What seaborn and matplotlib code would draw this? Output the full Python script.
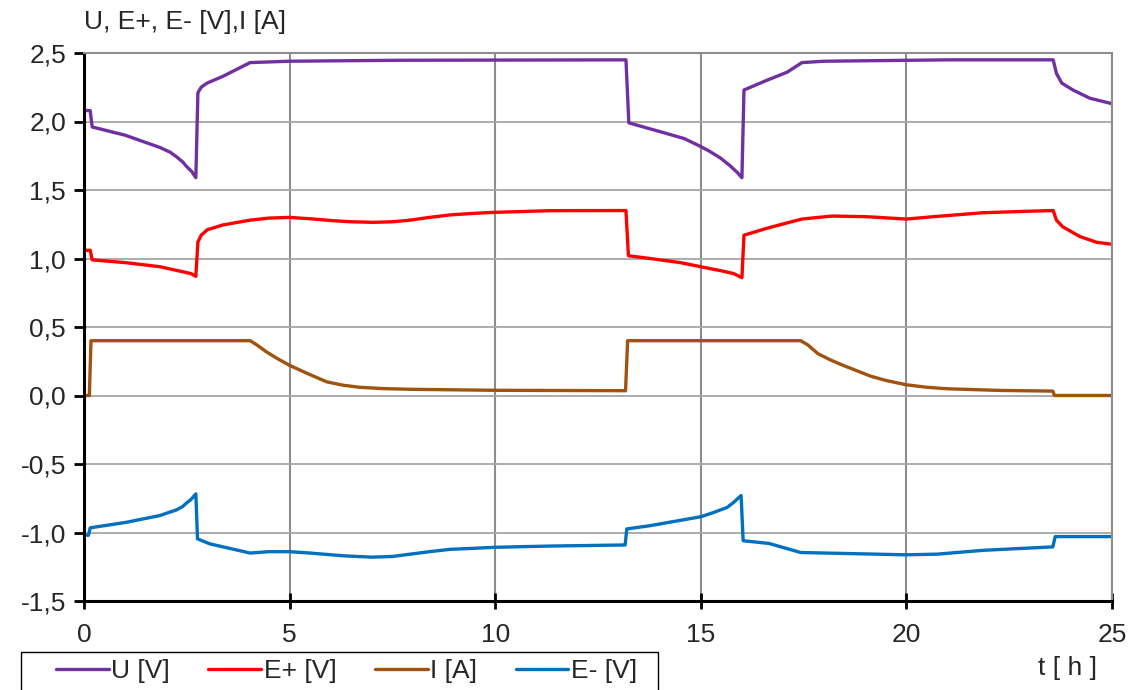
import matplotlib
matplotlib.use("Agg")
import matplotlib.pyplot as plt
import seaborn as sns
from matplotlib.patches import Rectangle
from matplotlib.ticker import FuncFormatter, MultipleLocator

# Data
t_u = [0, 0.15, 0.2, 1.0, 1.85, 2.1, 2.26, 2.4, 2.5, 2.62, 2.72, 2.77, 2.85, 2.99, 3.38, 4.04, 5.0,
       7.7, 13.18, 13.25, 14.08, 14.6, 14.98, 15.2, 15.47, 15.7, 15.88, 16.0, 16.05, 16.6, 17.1,
       17.46, 18.0, 21.0, 23.57, 23.65, 23.78, 24.05, 24.46, 25.0]
u = [2.08, 2.08, 1.96, 1.90, 1.81, 1.775, 1.74, 1.705, 1.67, 1.635, 1.59, 2.21, 2.25, 2.28, 2.33,
     2.43, 2.44, 2.447, 2.45, 1.99, 1.92, 1.875, 1.82, 1.785, 1.735, 1.68, 1.63, 1.59, 2.23, 2.30,
     2.36, 2.43, 2.44, 2.45, 2.45, 2.35, 2.28, 2.23, 2.17, 2.13]

t_ep = [0, 0.15, 0.2, 1.0, 1.85, 2.3, 2.6, 2.72, 2.77, 2.85, 3.0, 3.38, 4.04, 4.5, 5.0, 5.5, 6.06,
        6.5, 7.03, 7.5, 7.93, 8.4, 8.9, 9.5, 10.0, 11.33, 13.18, 13.24, 13.77, 14.5, 15.0, 15.5,
        15.8, 16.0, 16.05, 16.6, 17.1, 17.46, 18.2, 19.03, 20.0, 20.65, 21.86, 23.08, 23.57, 23.65,
        23.8, 24.22, 24.63, 25.0]
e_plus = [1.06, 1.06, 0.99, 0.97, 0.94, 0.91, 0.89, 0.87, 1.12, 1.17, 1.21, 1.245, 1.28, 1.295, 1.30,
          1.29, 1.276, 1.268, 1.264, 1.268, 1.28, 1.30, 1.318, 1.33, 1.337, 1.349, 1.35, 1.02, 1.00,
          0.97, 0.94, 0.91, 0.89, 0.86, 1.17, 1.22, 1.26, 1.288, 1.31, 1.305, 1.288, 1.305, 1.334,
          1.346, 1.35, 1.28, 1.232, 1.16, 1.118, 1.104]

t_i = [0, 0.13, 0.17, 4.04, 4.2, 4.45, 4.7, 5.0, 5.4, 5.9, 6.3, 6.7, 7.3, 8.0, 10.0, 13.17, 13.22,
       17.43, 17.6, 17.85, 18.15, 18.46, 18.8, 19.14, 19.5, 20.0, 20.5, 21.0, 22.28, 23.56, 23.6,
       25.0]
i_a = [0, 0, 0.4, 0.4, 0.37, 0.316, 0.27, 0.22, 0.165, 0.10, 0.075, 0.06, 0.05, 0.045, 0.038,
       0.035, 0.4, 0.4, 0.37, 0.305, 0.26, 0.22, 0.18, 0.14, 0.11, 0.078, 0.06, 0.049, 0.037,
       0.032, 0.0, 0.0]

t_em = [0, 0.11, 0.15, 1.04, 1.85, 2.0, 2.25, 2.4, 2.5, 2.6, 2.72, 2.76, 3.06, 4.04, 4.5, 5.0, 5.5,
        6.3, 7.0, 7.5, 8.4, 8.9, 9.5, 10.0, 11.33, 13.16, 13.2, 13.77, 15.0, 15.3, 15.64, 15.8,
        15.98, 16.03, 16.66, 17.43, 20.0, 20.75, 21.87, 23.56, 23.62, 25.0]
e_minus = [-1.02, -1.02, -0.966, -0.925, -0.876, -0.86, -0.835, -0.81, -0.783, -0.76, -0.718,
           -1.046, -1.083, -1.15, -1.14, -1.14, -1.15, -1.17, -1.18, -1.175, -1.14, -1.123, -1.115,
           -1.108, -1.099, -1.091, -0.974, -0.95, -0.885, -0.855, -0.817, -0.78, -0.73, -1.06,
           -1.08, -1.146, -1.163, -1.158, -1.13, -1.105, -1.03, -1.03]

series = [
    (t_u, u, "U [V]", "#7030A0"),
    (t_ep, e_plus, "E+ [V]", "#FF0000"),
    (t_i, i_a, "I [A]", "#A0520F"),
    (t_em, e_minus, "E- [V]", "#0070C0"),
]

sns.set_style("white")
plt.rcParams["font.family"] = ["Liberation Sans", "DejaVu Sans"]
fs = 19

fig = plt.figure(figsize=(11.29, 6.90), dpi=100)
ax = fig.add_axes([84 / 1129, 1 - 601 / 690, (1112 - 84) / 1129, (601 - 53) / 690])

for x, y, name, col in series:
    sns.lineplot(x=x, y=y, ax=ax, color=col, lw=2.4, label=name,
                 estimator=None, sort=False)

ax.set_xlim(0, 25)
ax.set_ylim(-1.5, 2.5)
ax.xaxis.set_major_locator(MultipleLocator(5))
ax.yaxis.set_major_locator(MultipleLocator(0.5))
ax.yaxis.set_major_formatter(FuncFormatter(lambda v, p: f"{v:.1f}".replace(".", ",")))
ax.set_xlabel("")
ax.set_ylabel("")

# grid: vertical darker, horizontal lighter
ax.grid(axis="x", color="#8C8C8C", lw=1.5)
ax.grid(axis="y", color="#A6A6A6", lw=1.3)
for s in ["top", "right"]:
    ax.spines[s].set_color("#8C8C8C")
    ax.spines[s].set_linewidth(1.5)
for s in ["left", "bottom"]:
    ax.spines[s].set_color("black")
    ax.spines[s].set_linewidth(2.2)

ax.tick_params(axis="y", direction="out", length=7, width=2, color="black",
               labelsize=fs, pad=6, left=True)
ax.tick_params(axis="x", direction="inout", length=12, width=2, color="black",
               labelsize=fs, pad=10, bottom=True)

# legend frame drawn separately so the padding matches the original
fig.patches.append(Rectangle((21 / 1129, -0.05), (658 - 21) / 1129, 1 - 652 / 690 + 0.05,
                             transform=fig.transFigure, fill=False, edgecolor="black", lw=1.0))
ax.legend(loc="center left", bbox_to_anchor=(56 / 1129, 1 - 671 / 690),
          bbox_transform=fig.transFigure, ncol=4, frameon=False, fontsize=fs,
          handlelength=2.0, handletextpad=0.1, columnspacing=1.45, borderpad=0,
          borderaxespad=0)

fig.text(84 / 1129, 1 - 22 / 690, "U, E+, E- [V],I [A]", fontsize=fs, va="center", ha="left")
fig.text(1068 / 1129, 1 - 668 / 690, "t [ h ]", fontsize=fs, va="center", ha="center")

fig.savefig("out.png", dpi=100)
